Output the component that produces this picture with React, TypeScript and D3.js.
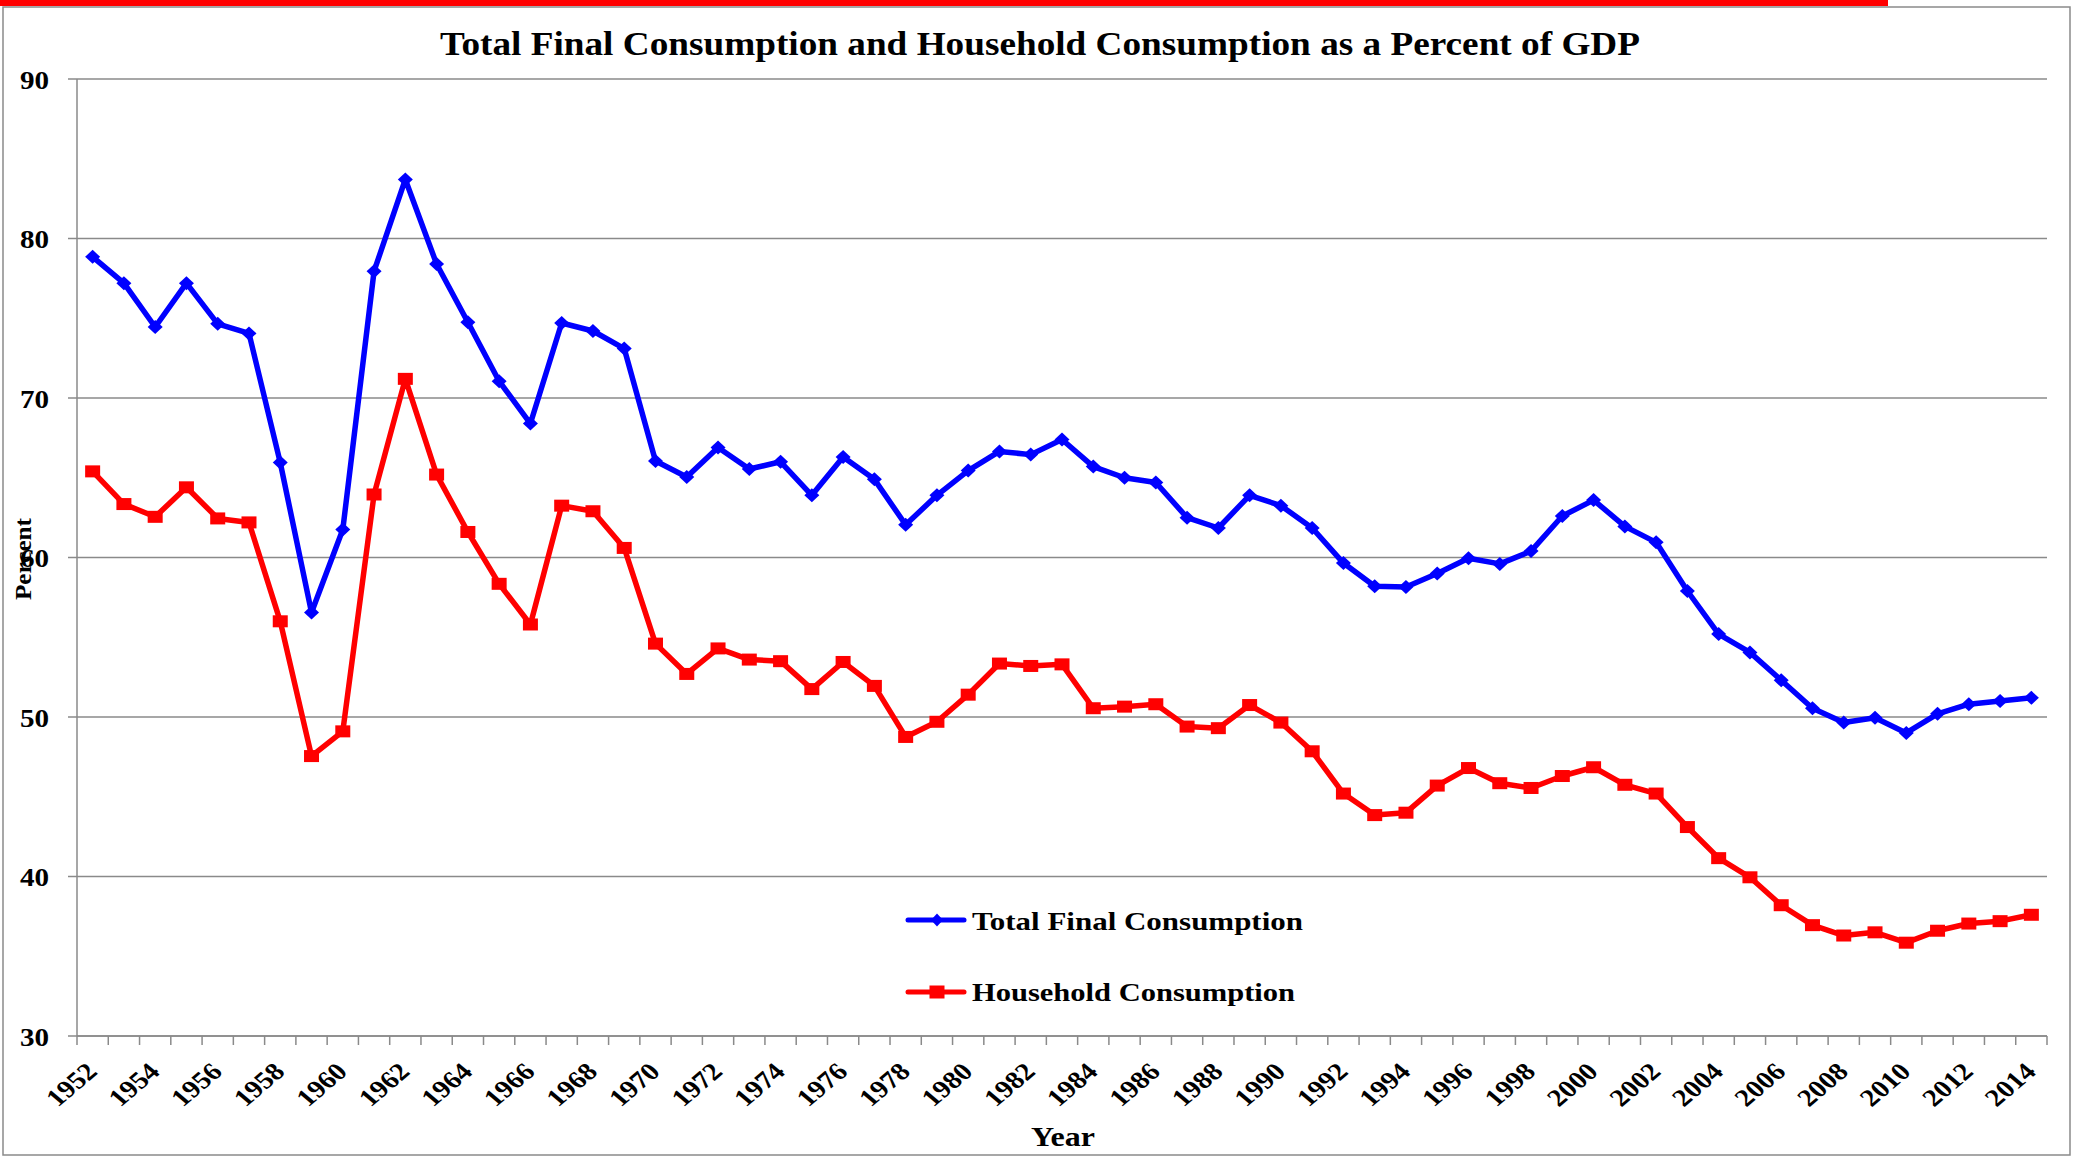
import React from "react";
import * as d3 from "d3";

const years: number[] = [
  1952, 1953, 1954, 1955, 1956, 1957, 1958, 1959, 1960, 1961, 1962, 1963, 1964, 1965, 1966, 1967,
  1968, 1969, 1970, 1971, 1972, 1973, 1974, 1975, 1976, 1977, 1978, 1979, 1980, 1981, 1982, 1983,
  1984, 1985, 1986, 1987, 1988, 1989, 1990, 1991, 1992, 1993, 1994, 1995, 1996, 1997, 1998, 1999,
  2000, 2001, 2002, 2003, 2004, 2005, 2006, 2007, 2008, 2009, 2010, 2011, 2012, 2013, 2014,
];

const totalFinal: number[] = [
  78.85, 77.2, 74.45, 77.2, 74.65, 74.05, 65.95, 56.55, 61.75, 77.95, 83.7, 78.4, 74.75, 71.05, 68.4, 74.7,
  74.2, 73.1, 66.05, 65.05, 66.9, 65.55, 66.0, 63.9, 66.3, 64.9, 62.05, 63.9, 65.45, 66.65, 66.45, 67.4,
  65.7, 65.0, 64.7, 62.5, 61.85, 63.9, 63.25, 61.85, 59.65, 58.2, 58.15, 59.0, 59.95, 59.6, 60.4, 62.6,
  63.6, 61.95, 60.95, 57.9, 55.2, 54.05, 52.3, 50.55, 49.65, 49.95, 49.0, 50.2, 50.8, 51.0, 51.2,
];

const household: number[] = [
  65.4, 63.35, 62.55, 64.4, 62.45, 62.2, 56.0, 47.55, 49.1, 63.95, 71.2, 65.2, 61.6, 58.35, 55.8, 63.25,
  62.9, 60.6, 54.6, 52.7, 54.3, 53.6, 53.5, 51.75, 53.45, 51.95, 48.75, 49.7, 51.4, 53.35, 53.2, 53.3,
  50.55, 50.65, 50.8, 49.4, 49.3, 50.75, 49.65, 47.85, 45.2, 43.85, 44.0, 45.7, 46.8, 45.85, 45.55, 46.3,
  46.85, 45.75, 45.2, 43.1, 41.15, 39.95, 38.2, 36.95, 36.3, 36.5, 35.85, 36.6, 37.05, 37.2, 37.6,
];

const yTicks: number[] = [30, 40, 50, 60, 70, 80, 90];
const xLabelYears: number[] = years.filter((y) => (y - 1952) % 2 === 0);

const titleText = "Total Final Consumption and Household Consumption as a Percent of GDP";
const seriesNames = ["Total Final Consumption", "Household Consumption"];

const W = 2073;
const H = 1157;
const FONT = "'Liberation Serif', 'Times New Roman', serif";
const GRID = "#8a8a8a";

export default function App() {
  const x = d3.scaleBand<number>().domain(years).range([77, 2047]).padding(0);
  const y = d3.scaleLinear().domain([30, 90]).range([1036, 79]);
  const cx = (yr: number) => (x(yr) as number) + x.bandwidth() / 2;

  const line = d3
    .line<number>()
    .x((_, i) => cx(years[i]))
    .y((d) => y(d));

  const boundaries = years.map((yr) => x(yr) as number).concat([x.range()[1]]);

  const diamond = (px: number, py: number, hw: number, hh: number) =>
    `M${px},${py - hh}L${px + hw},${py}L${px},${py + hh}L${px - hw},${py}Z`;

  return (
    <svg
      width={W}
      height={H}
      style={{ position: "absolute", left: 0, top: 0, background: "#fff" }}
      fontFamily={FONT}
    >
      <rect x={0} y={0} width={W} height={H} fill="#fff" />
      {/* top red bar and outer frame */}
      <rect x={0} y={0} width={1888} height={6} fill="#ff0000" />
      <rect x={3} y={7} width={2067} height={1148} fill="none" stroke={GRID} strokeWidth={1.5} />

      {/* title */}
      <text
        x={1040}
        y={55}
        textAnchor="middle"
        fontSize={34}
        fontWeight="bold"
        textLength={1200}
        lengthAdjust="spacingAndGlyphs"
      >
        {titleText}
      </text>

      {/* gridlines */}
      {yTicks.map((t) => (
        <g key={"g" + t}>
          <line x1={68} x2={2047} y1={y(t)} y2={y(t)} stroke={GRID} strokeWidth={1.5} />
          <g transform={`translate(49,${y(t) + 9.5}) scale(1.12,1)`}>
            <text textAnchor="end" fontSize={26} fontWeight="bold">
              {t}
            </text>
          </g>
        </g>
      ))}

      {/* axes */}
      <line x1={77} x2={77} y1={79} y2={1036} stroke={GRID} strokeWidth={1.5} />
      <line x1={77} x2={2047} y1={1036} y2={1036} stroke={GRID} strokeWidth={1.5} />
      {boundaries.map((b, i) => (
        <line key={"t" + i} x1={b} x2={b} y1={1036} y2={1045} stroke={GRID} strokeWidth={1.5} />
      ))}

      {/* x tick labels */}
      {xLabelYears.map((yr) => (
        <g key={"xl" + yr} transform={`translate(${cx(yr) + 6},1073) scale(1.18,1) rotate(-45)`}>
          <text textAnchor="end" fontSize={24.5} fontWeight="bold">
            {yr}
          </text>
        </g>
      ))}

      {/* axis titles */}
      <text
        x={1063}
        y={1146}
        textAnchor="middle"
        fontSize={27}
        fontWeight="bold"
        textLength={64}
        lengthAdjust="spacingAndGlyphs"
      >
        Year
      </text>
      <text
        transform="translate(31,559) rotate(-90)"
        textAnchor="middle"
        fontSize={24}
        fontWeight="bold"
        textLength={82}
        lengthAdjust="spacingAndGlyphs"
      >
        Percent
      </text>

      {/* series lines */}
      <path
        d={line(household) || ""}
        fill="none"
        stroke="#ff0000"
        strokeWidth={5.5}
        strokeLinejoin="round"
        strokeLinecap="round"
      />
      {household.map((v, i) => (
        <rect key={"hm" + i} x={cx(years[i]) - 7.5} y={y(v) - 6} width={15} height={12} fill="#ff0000" />
      ))}
      <path
        d={line(totalFinal) || ""}
        fill="none"
        stroke="#0000ff"
        strokeWidth={5.5}
        strokeLinejoin="round"
        strokeLinecap="round"
      />
      {totalFinal.map((v, i) => (
        <path key={"tm" + i} d={diamond(cx(years[i]), y(v), 7.5, 7)} fill="#0000ff" />
      ))}

      {/* legend */}
      <line x1={908} x2={964} y1={920} y2={920} stroke="#0000ff" strokeWidth={5} strokeLinecap="round" />
      <path d={diamond(937, 920, 6, 6.5)} fill="#0000ff" />
      <text
        x={972}
        y={930}
        fontSize={25}
        fontWeight="bold"
        textLength={331}
        lengthAdjust="spacingAndGlyphs"
      >
        {seriesNames[0]}
      </text>
      <line x1={908} x2={964} y1={992} y2={992} stroke="#ff0000" strokeWidth={5} strokeLinecap="round" />
      <rect x={929.5} y={985.5} width={15} height={13} fill="#ff0000" />
      <text
        x={972}
        y={1001}
        fontSize={25}
        fontWeight="bold"
        textLength={323}
        lengthAdjust="spacingAndGlyphs"
      >
        {seriesNames[1]}
      </text>
    </svg>
  );
}
